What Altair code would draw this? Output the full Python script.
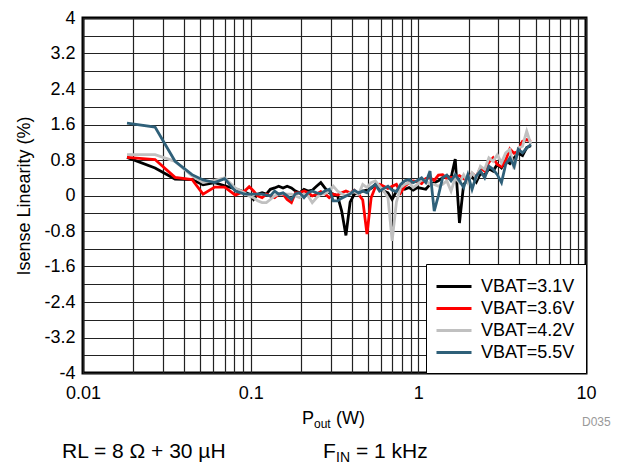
import altair as alt
import pandas as pd

# Output power (W) sample points
pout = [0.0183, 0.0269, 0.0354, 0.0447, 0.052, 0.061, 0.070, 0.081, 0.092,
        0.098, 0.104, 0.110, 0.117, 0.124, 0.131, 0.139, 0.147, 0.156, 0.165,
        0.175, 0.185, 0.196, 0.208, 0.220, 0.233, 0.247, 0.262, 0.277, 0.294,
        0.311, 0.330, 0.349, 0.370, 0.392, 0.415, 0.440, 0.466, 0.494, 0.523,
        0.554, 0.587, 0.622, 0.659, 0.698, 0.740, 0.784, 0.830, 0.880, 0.932,
        0.987, 1.046, 1.108, 1.174, 1.244, 1.318, 1.396, 1.479, 1.567, 1.660,
        1.759, 1.863, 1.974, 2.091, 2.216, 2.347, 2.487, 2.635, 2.791, 2.957,
        3.133, 3.319, 3.516, 3.725, 3.947, 4.181, 4.430, 4.693]

vbat_31 = [0.86, 0.62, 0.37, 0.36, 0.24, 0.29, 0.22, 0.15, 0.08,
           0.03, -0.09, 0.03, 0.06, 0.03, 0.14, 0.17, 0.21, 0.17, 0.21,
           0.17, 0.10, 0.06, 0.14, 0.10, 0.12, 0.21, 0.29, 0.17, 0.06,
           0.03, -0.01, -0.35, -0.90, -0.15, 0.03, 0.05, 0.10, 0.12, 0.16,
           0.25, 0.19, 0.10, 0.06, -0.09, 0.10, 0.18, 0.14, 0.18, 0.12,
           0.18, 0.16, 0.14, 0.25, 0.29, 0.33, 0.40, 0.44, 0.40, 0.82,
           -0.62, 0.25, 0.35, 0.42, 0.30, 0.50, 0.45, 0.60, 0.55, 0.70,
           0.62, 0.78, 0.72, 0.85, 0.95, 0.90, 1.08, 1.12]

vbat_36 = [0.86, 0.81, 0.41, 0.36, 0.03, 0.19, 0.19, 0.01, 0.10,
           0.20, 0.10, -0.01, -0.05, 0.03, -0.01, -0.05, 0.03, 0.03, -0.09,
           -0.16, 0.06, 0.06, 0.10, 0.06, -0.01, 0.03, 0.09, 0.04, -0.05,
           0.03, 0.01, 0.06, 0.10, 0.06, 0.12, 0.03, -0.10, -0.87, -0.05,
           0.19, 0.25, 0.21, 0.16, 0.21, 0.25, 0.06, 0.21, 0.29, 0.33,
           0.31, 0.27, 0.38, 0.40, 0.34, 0.46, 0.47, 0.38, 0.41, 0.40,
           0.45, 0.38, 0.35, 0.50, 0.42, 0.62, 0.55, 0.75, 0.85, 0.70,
           0.65, 0.80, 1.05, 0.95, 1.00, 1.22, 1.26, 1.22]

vbat_42 = [0.92, 0.92, 0.77, 0.44, 0.29, 0.34, 0.40, 0.17, 0.06,
           -0.01, -0.05, -0.12, -0.16, -0.16, -0.09, -0.01, 0.03, 0.04, 0.03,
           0.03, -0.01, -0.05, 0.03, -0.01, -0.16, -0.05, 0.03, 0.04, 0.10,
           0.21, 0.10, 0.04, -0.01, 0.06, 0.09, 0.03, 0.25, 0.18, 0.29,
           0.33, 0.21, 0.10, -0.05, -1.02, -0.15, 0.18, 0.25, 0.29, 0.18,
           0.25, 0.36, 0.33, 0.25, 0.25, 0.21, 0.25, 0.33, 0.10, 0.40,
           0.29, 0.47, 0.29, 0.51, 0.40, 0.66, 0.59, 0.85, 0.77, 0.92,
           0.74, 0.96, 1.04, 0.59, 1.07, 1.11, 1.45, 1.15]

vbat_55 = [1.63, 1.54, 0.77, 0.47, 0.35, 0.29, 0.38, 0.10, 0.03,
           0.03, 0.03, 0.03, 0.03, 0.01, -0.01, 0.10, 0.03, 0.06, -0.01,
           -0.09, 0.04, 0.06, -0.05, 0.06, 0.10, 0.06, 0.04, 0.10, 0.14,
           -0.12, -0.12, -0.06, -0.01, 0.03, 0.12, 0.06, 0.10, 0.06, 0.18,
           0.25, 0.10, 0.16, 0.21, 0.12, 0.09, 0.25, 0.33, 0.36, 0.29,
           0.34, 0.40, 0.29, 0.55, -0.35, 0.00, 0.40, 0.46, 0.33, 0.47,
           0.33, 0.18, 0.47, 0.14, 0.44, 0.55, 0.40, 0.66, 0.59, 0.47,
           0.29, 0.70, 0.85, 0.66, 1.04, 0.96, 1.07, 1.15]

series_names = ["VBAT=3.1V", "VBAT=3.6V", "VBAT=4.2V", "VBAT=5.5V"]
series_colors = ["#000000", "#ff0000", "#c0c0c0", "#2f6079"]
series_values = [vbat_31, vbat_36, vbat_42, vbat_55]

x_ticks = [0.01, 0.02, 0.03, 0.04, 0.05, 0.06, 0.07, 0.08, 0.09,
           0.1, 0.2, 0.3, 0.4, 0.5, 0.6, 0.7, 0.8, 0.9,
           1, 2, 3, 4, 5, 6, 7, 8, 9, 10]
y_ticks = [-4, -3.6, -3.2, -2.8, -2.4, -2, -1.6, -1.2, -0.8, -0.4, 0,
           0.4, 0.8, 1.2, 1.6, 2, 2.4, 2.8, 3.2, 3.6, 4]

rows = []
for name, ys in zip(series_names, series_values):
    for xv, yv in zip(pout, ys):
        rows.append({"Pout": xv, "Lin": yv, "Series": name})
df = pd.DataFrame(rows)

FONT = "Liberation Sans"

lines = alt.Chart(df).mark_line(strokeWidth=2.8, clip=True).encode(
    x=alt.X("Pout:Q",
            scale=alt.Scale(type="log", domain=[0.01, 10], nice=False),
            axis=alt.Axis(values=x_ticks, title=None, format="~g",
                          labelExpr="datum.value == 0.01 || datum.value == 0.1 || datum.value == 1 || datum.value == 10 ? datum.label : ''",
                          labelOverlap=False, labelFlush=False, ticks=False,
                          labelPadding=11, domain=False)),
    y=alt.Y("Lin:Q",
            scale=alt.Scale(domain=[-4, 4], nice=False, zero=False),
            axis=alt.Axis(values=y_ticks, title="Isense Linearity (%)",
                          labelExpr="abs(round(datum.value * 10)) % 8 == 0 ? replace(format(datum.value, '~g'), '\u2212', '-') : ''",
                          labelOverlap=False, ticks=False, labelPadding=8,
                          titlePadding=10, domain=False)),
    color=alt.Color("Series:N",
                    scale=alt.Scale(domain=series_names, range=series_colors),
                    legend=alt.Legend(title=None, orient="bottom-right", offset=0,
                                      symbolType="M-1.2,0H2.3", symbolSize=400,
                                      symbolStrokeWidth=3, labelFontSize=18,
                                      labelFont=FONT, labelOffset=21,
                                      padding=11, rowPadding=1,
                                      fillColor="white", strokeColor="black")),
)

def label(text, x, y, size, color="black", align="left"):
    return alt.Chart(pd.DataFrame({"t": [text]})).mark_text(
        font=FONT, fontSize=size, color=color, align=align, baseline="middle"
    ).encode(text="t:N", x=alt.value(x), y=alt.value(y))

footer = [
    label("P", 219, 401, 18),
    label("out", 231, 406, 12),
    label("(W)", 253, 401, 18),
    label("D035", 499, 404, 12, color="#999999"),
    label("RL = 8 \u03a9 + 30 \u00b5H", -21, 434, 21),
    label("F", 240, 434, 21),
    label("IN", 253, 440, 14),
    label("= 1 kHz", 273, 434, 21),
]

chart = alt.layer(lines, *footer).properties(
    width=503, height=355,
    padding={"left": 75, "top": 10, "right": 30, "bottom": 92},
    autosize=alt.AutoSizeParams(type="none"),
).configure_view(
    stroke="black", strokeWidth=3
).configure_axis(
    grid=True, gridColor="#222222", gridWidth=1.2, gridOpacity=1,
    labelFont=FONT, labelFontSize=18, labelColor="black",
    titleFont=FONT, titleFontSize=18, titleFontWeight="normal", titleColor="black",
)

chart.save("out.html", embed_options={"renderer": "svg", "actions": False})
